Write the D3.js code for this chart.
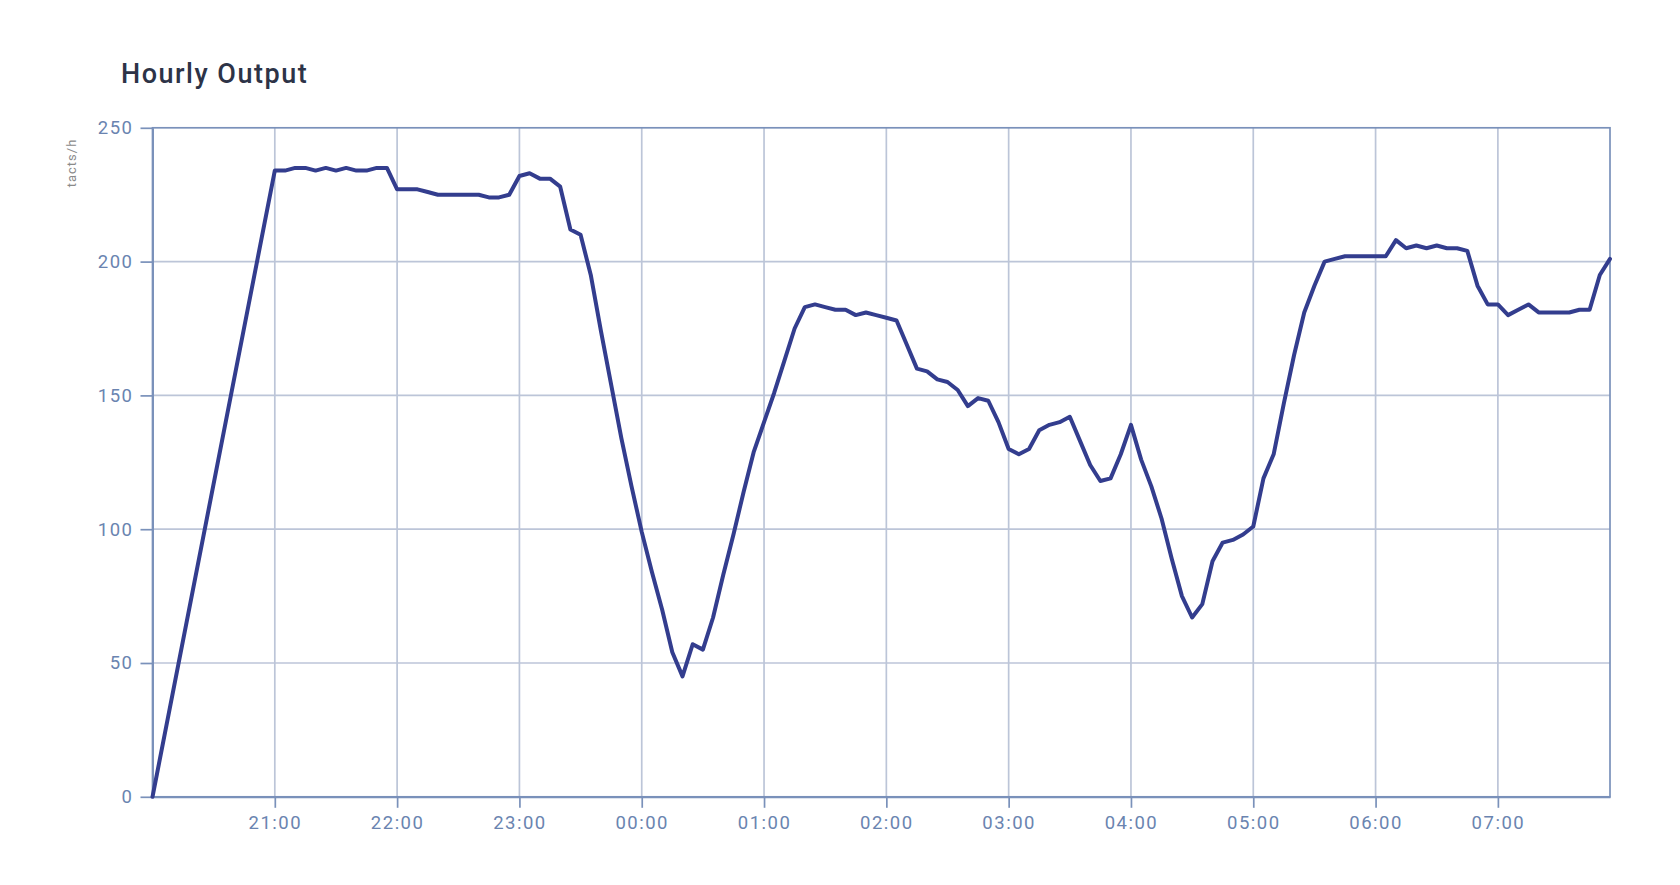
<!DOCTYPE html>
<html>
<head>
<meta charset="utf-8">
<script src="https://cdn.jsdelivr.net/npm/d3@7/dist/d3.min.js"></script>
<style>
  html, body { margin: 0; padding: 0; background: #ffffff; }
  svg { display: block; }
</style>
</head>
<body>
<svg id="chart" width="1680" height="885"></svg>
<script>
// ---- data ----
const chartTitle = "Hourly Output";
const yAxisLabel = "tacts/h";
const times = [
  "20:00",
  "21:00","21:05","21:10","21:15","21:20","21:25","21:30","21:35","21:40","21:45","21:50","21:55",
  "22:00","22:05","22:10","22:15","22:20","22:25","22:30","22:35","22:40","22:45","22:50","22:55",
  "23:00","23:05","23:10","23:15","23:20","23:25","23:30","23:35","23:40","23:45","23:50","23:55",
  "00:00","00:05","00:10","00:15","00:20","00:25","00:30","00:35","00:40","00:45","00:50","00:55",
  "01:00","01:05","01:10","01:15","01:20","01:25","01:30","01:35","01:40","01:45","01:50","01:55",
  "02:00","02:05","02:10","02:15","02:20","02:25","02:30","02:35","02:40","02:45","02:50","02:55",
  "03:00","03:05","03:10","03:15","03:20","03:25","03:30","03:35","03:40","03:45","03:50","03:55",
  "04:00","04:05","04:10","04:15","04:20","04:25","04:30","04:35","04:40","04:45","04:50","04:55",
  "05:00","05:05","05:10","05:15","05:20","05:25","05:30","05:35","05:40","05:45","05:50","05:55",
  "06:00","06:05","06:10","06:15","06:20","06:25","06:30","06:35","06:40","06:45","06:50","06:55",
  "07:00","07:05","07:10","07:15","07:20","07:25","07:30","07:35","07:40","07:45","07:50","07:55"
];
const outputValues = [
  0,
  234,234,235,235,234,235,234,235,234,234,235,235,
  227,227,227,226,225,225,225,225,225,224,224,225,
  232,233,231,231,228,212,210,195,174,154,134,116,
  99,84,70,54,45,57,55,67,83,98,114,129,
  140,151,163,175,183,184,183,182,182,180,181,180,
  179,178,169,160,159,156,155,152,146,149,148,140,
  130,128,130,137,139,140,142,133,124,118,119,128,
  139,126,116,104,89,75,67,72,88,95,96,98,
  101,119,128,147,165,181,191,200,201,202,202,202,
  202,202,208,205,206,205,206,205,205,204,191,184,
  184,180,182,184,181,181,181,181,182,182,195,201
];
const yTickValues = [0, 50, 100, 150, 200, 250];
const xTickLabels = ["21:00","22:00","23:00","00:00","01:00","02:00","03:00","04:00","05:00","06:00","07:00"];

// ---- helpers ----
function toDate(hhmm) {
  const [h, m] = hhmm.split(":").map(Number);
  const day = h < 12 ? 2 : 1;
  return new Date(2024, 0, day, h, m);
}
const data = times.map((t, i) => ({ t: toDate(t), v: outputValues[i] }));
const xTicks = xTickLabels.map(toDate);

// ---- layout ----
const svg = d3.select("#chart");
const plotLeft = 152.5, plotRight = 1610, plotTop = 127.8, plotBottom = 796.8;

const x = d3.scaleTime().domain(d3.extent(data, d => d.t)).range([plotLeft, plotRight]);
const y = d3.scaleLinear().domain([0, 250]).range([plotBottom, plotTop]);

const axisColor = "#7a91ba";
const gridColor = "#bcc5d8";
const textColor = "#6a84b0";
const lineColor = "#333d8e";

// title
svg.append("text")
  .attr("x", 121).attr("y", 83)
  .attr("font-family", "Roboto, sans-serif")
  .attr("font-size", 27).attr("font-weight", 500)
  .attr("letter-spacing", 1.5)
  .attr("fill", "#2d3347")
  .text(chartTitle);

// y axis label
svg.append("text")
  .attr("transform", "translate(76,163) rotate(-90)")
  .attr("text-anchor", "middle")
  .attr("font-family", "Roboto, sans-serif")
  .attr("font-size", 13)
  .attr("letter-spacing", 1)
  .attr("fill", "#8a8a8a")
  .text(yAxisLabel);

// grid
const grid = svg.append("g");
grid.selectAll("line.h").data(yTickValues.filter(v => v > 0 && v < 250)).join("line")
  .attr("x1", plotLeft).attr("x2", plotRight)
  .attr("y1", d => y(d)).attr("y2", d => y(d))
  .attr("stroke", gridColor).attr("stroke-width", 1.7);
grid.selectAll("line.v").data(xTicks).join("line")
  .attr("x1", d => x(d)).attr("x2", d => x(d))
  .attr("y1", plotTop).attr("y2", plotBottom)
  .attr("stroke", gridColor).attr("stroke-width", 1.7);

// frame (top and right borders)
svg.append("rect")
  .attr("x", plotLeft).attr("y", plotTop)
  .attr("width", plotRight - plotLeft).attr("height", plotBottom - plotTop)
  .attr("fill", "none").attr("stroke", axisColor).attr("stroke-width", 1.7);

// axes
const yAxis = svg.append("g")
  .attr("transform", `translate(${plotLeft},0)`)
  .call(d3.axisLeft(y).tickValues(yTickValues).tickSize(12).tickSizeOuter(0).tickPadding(7).tickFormat(d3.format("d")));
const xAxis = svg.append("g")
  .attr("transform", `translate(0,${plotBottom})`)
  .call(d3.axisBottom(x).tickValues(xTicks).tickSize(11).tickSizeOuter(0).tickPadding(8).tickFormat(d3.timeFormat("%H:%M")));

[yAxis, xAxis].forEach(g => {
  g.select(".domain").attr("stroke", axisColor).attr("stroke-width", 2);
  g.selectAll(".tick line").attr("stroke", axisColor).attr("stroke-width", 1.7);
  g.selectAll(".tick text")
    .attr("fill", textColor)
    .attr("font-family", "Roboto, sans-serif")
    .attr("font-size", 18.5)
    .attr("letter-spacing", 1.5);
});

// line
svg.append("path")
  .datum(data)
  .attr("fill", "none")
  .attr("stroke", lineColor)
  .attr("stroke-width", 4)
  .attr("stroke-linejoin", "round")
  .attr("stroke-linecap", "round")
  .attr("d", d3.line().x(d => x(d.t)).y(d => y(d.v)));
</script>
</body>
</html>
